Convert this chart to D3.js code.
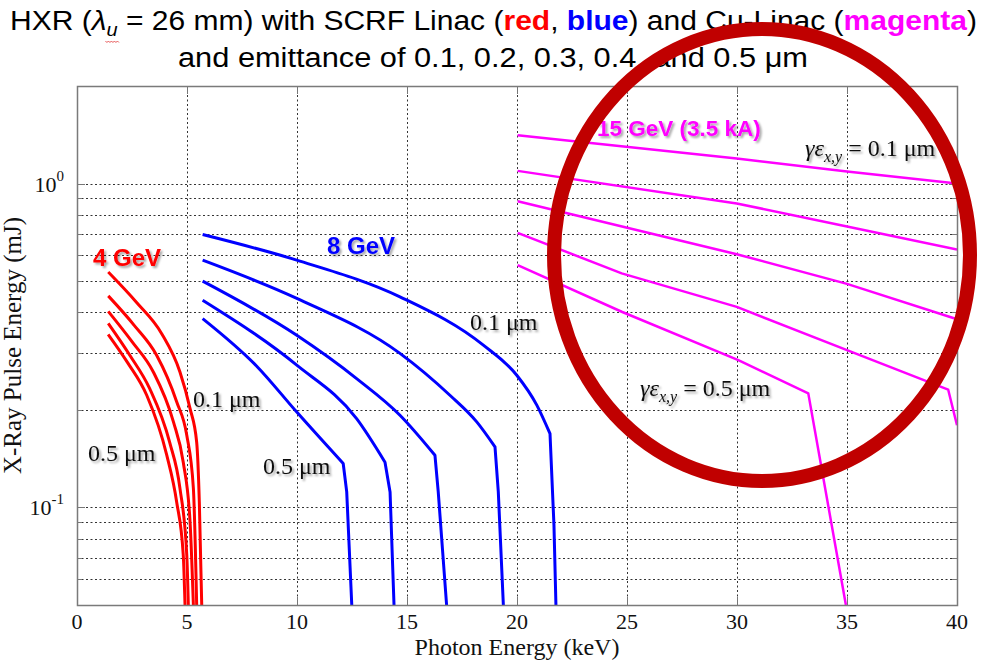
<!DOCTYPE html>
<html lang="en">
<head>
<meta charset="UTF-8">
<title>HXR pulse energy</title>
<script src="https://cdn.jsdelivr.net/npm/d3@7"></script>
<style>
  body { margin: 0; background: #fff; }
  svg { display: block; }
</style>
</head>
<body>
<div class="chart"></div>
<script>
const xTicks = [0, 5, 10, 15, 20, 25, 30, 35, 40]
const yMajor = [0.1, 1]
const yMinor = [0.06, 0.07, 0.08, 0.09, 0.2, 0.3, 0.4, 0.5, 0.6, 0.7, 0.8, 0.9]

// [keV, mJ] per curve, emittance 0.1 .. 0.5 um
const red4GeV = [
  [[1.42, 0.533], [2.7, 0.43], [3.85, 0.344], [4.68, 0.262], [5.14, 0.202], [5.44, 0.159], [5.56, 0.104], [5.67, 0.05]],
  [[1.42, 0.450], [2.6, 0.365], [3.62, 0.295], [4.53, 0.212], [4.99, 0.167], [5.29, 0.1145], [5.44, 0.05]],
  [[1.42, 0.403], [2.5, 0.325], [3.47, 0.262], [4.38, 0.184], [4.83, 0.138], [5.14, 0.090], [5.29, 0.05]],
  [[1.42, 0.370], [2.4, 0.295], [3.30, 0.233], [4.21, 0.159], [4.68, 0.1145], [4.99, 0.0713], [5.06, 0.05]],
  [[1.42, 0.342], [2.3, 0.28], [3.17, 0.222], [4.08, 0.145], [4.53, 0.104], [4.83, 0.0713], [4.91, 0.05]]
]
const blue8GeV = [
  [[5.71, 0.696], [9.99, 0.580], [14.68, 0.447], [18.47, 0.317], [19.99, 0.256], [20.9, 0.207], [21.5, 0.169], [21.68, 0.0882], [21.77, 0.05]],
  [[5.71, 0.580], [9.99, 0.442], [14.68, 0.299], [16.95, 0.222], [18.17, 0.1837], [19.0, 0.1538], [19.15, 0.1117], [19.38, 0.05]],
  [[5.71, 0.4995], [9.99, 0.340], [12.71, 0.250], [14.68, 0.1927], [16.27, 0.145], [16.42, 0.1117], [16.8, 0.05]],
  [[5.71, 0.436], [9.99, 0.275], [12.71, 0.188], [14.0, 0.138], [14.23, 0.1117], [14.41, 0.05]],
  [[5.71, 0.383], [8.17, 0.273], [9.99, 0.197], [12.1, 0.1367], [12.26, 0.1117], [12.49, 0.05]]
]
const magenta15GeV = [
  [[20.03, 1.41], [29.99, 1.195], [35, 1.09], [40, 1.0]],
  [[20.03, 1.094], [29.99, 0.868], [35, 0.737], [40, 0.626]],
  [[20.03, 0.882], [29.99, 0.605], [35, 0.49], [39.9, 0.383]],
  [[20.03, 0.704], [24.76, 0.528], [29.99, 0.416], [35, 0.306], [39.6, 0.231], [40, 0.1795]],
  [[20.03, 0.560], [24.76, 0.402], [30.06, 0.285], [33.24, 0.225], [34.95, 0.05]]
]

const W = 987, H = 660
const plot = { left: 77, right: 957, top: 86, bottom: 605 }
const serif = 'Liberation Serif, Times New Roman, serif'
const sans = 'Liberation Sans, Arial, sans-serif'

const svg = d3.select('.chart').append('svg').attr('width', W).attr('height', H)
const defs = svg.append('defs')
defs.append('clipPath').attr('id', 'clip').append('rect')
  .attr('x', plot.left).attr('y', plot.top)
  .attr('width', plot.right - plot.left).attr('height', plot.bottom - plot.top)
defs.append('filter').attr('id', 'shadow').attr('x', '-10%').attr('y', '-30%').attr('width', '130%').attr('height', '170%')
  .append('feDropShadow').attr('dx', 2).attr('dy', 2).attr('stdDeviation', 1.3)
  .attr('flood-color', '#000').attr('flood-opacity', 0.35)

const x = d3.scaleLinear().domain([0, 40]).range([plot.left, plot.right])
const y = d3.scaleLog().domain([0.05, 2]).range([plot.bottom, plot.top])

// grid
const grid = svg.append('g').attr('stroke', '#333').attr('stroke-width', 1).attr('stroke-dasharray', '2,2.5')
grid.selectAll('.gx').data(xTicks.slice(1, -1)).enter().append('line')
  .attr('x1', d => Math.round(x(d)) + 0.5).attr('x2', d => Math.round(x(d)) + 0.5)
  .attr('y1', plot.top).attr('y2', plot.bottom)
grid.selectAll('.gy').data(yMajor.concat(yMinor)).enter().append('line')
  .attr('y1', d => Math.round(y(d)) + 0.5).attr('y2', d => Math.round(y(d)) + 0.5)
  .attr('x1', plot.left).attr('x2', plot.right)

// inward ticks
const ticks = svg.append('g').attr('stroke', '#777').attr('stroke-width', 1)
xTicks.forEach(d => {
  const px = Math.round(x(d)) + 0.5
  ticks.append('line').attr('x1', px).attr('x2', px).attr('y1', plot.bottom).attr('y2', plot.bottom - 8)
  ticks.append('line').attr('x1', px).attr('x2', px).attr('y1', plot.top).attr('y2', plot.top + 8)
})
yMajor.concat(yMinor).forEach(d => {
  const py = Math.round(y(d)) + 0.5
  const len = yMajor.includes(d) ? 8 : 5
  ticks.append('line').attr('x1', plot.left).attr('x2', plot.left + len).attr('y1', py).attr('y2', py)
  ticks.append('line').attr('x1', plot.right).attr('x2', plot.right - len).attr('y1', py).attr('y2', py)
})

// curves
const line = d3.line().x(d => x(d[0])).y(d => y(d[1]))
const smooth = d3.line().x(d => x(d[0])).y(d => y(d[1])).curve(d3.curveMonotoneX)
// smooth roll-off down to the saturation knee, then a straight drop
function kneePath(pts) {
  let k = pts.length - 1
  for (let i = 0; i < pts.length - 1; i++) {
    const s = (y(pts[i + 1][1]) - y(pts[i][1])) / (x(pts[i + 1][0]) - x(pts[i][0]))
    if (s > 4) { k = i; break }
  }
  return smooth(pts.slice(0, k + 1)) + line(pts.slice(k)).replace(/^M/, 'L')
}
const curves = svg.append('g').attr('clip-path', 'url(#clip)').attr('fill', 'none')
  .attr('stroke-linejoin', 'round')
curves.selectAll('.red').data(red4GeV).enter().append('path')
  .attr('d', smooth).attr('stroke', '#ff0000').attr('stroke-width', 3)
curves.selectAll('.blue').data(blue8GeV).enter().append('path')
  .attr('d', kneePath).attr('stroke', '#0000ff').attr('stroke-width', 3)
curves.selectAll('.mag').data(magenta15GeV).enter().append('path')
  .attr('d', line).attr('stroke', '#ff00ff').attr('stroke-width', 2.5)

// box
svg.append('rect').attr('x', plot.left + 0.5).attr('y', plot.top + 0.5)
  .attr('width', plot.right - plot.left).attr('height', plot.bottom - plot.top)
  .attr('fill', 'none').attr('stroke', '#7a7a7a').attr('stroke-width', 1.5)

// tick labels
svg.append('g').selectAll('text').data(xTicks).enter().append('text')
  .attr('x', d => x(d)).attr('y', 629).attr('text-anchor', 'middle')
  .attr('font-family', serif).attr('font-size', 22).attr('fill', '#111')
  .text(d => d)
const yl = svg.append('g').selectAll('text').data(yMajor).enter().append('text')
  .attr('x', 64).attr('y', d => y(d) + 8).attr('text-anchor', 'end')
  .attr('font-family', serif).attr('font-size', 22).attr('fill', '#111')
yl.append('tspan').text('10')
yl.append('tspan').attr('dy', -11).attr('font-size', 15).text(d => Math.round(Math.log10(d)))

// axis titles
svg.append('text').attr('x', (plot.left + plot.right) / 2).attr('y', 655).attr('text-anchor', 'middle')
  .attr('font-family', serif).attr('font-size', 24).attr('fill', '#111').text('Photon Energy (keV)')
svg.append('text').attr('transform', `translate(21,${(plot.top + plot.bottom) / 2}) rotate(-90)`)
  .attr('text-anchor', 'middle').attr('font-family', serif).attr('font-size', 25).attr('fill', '#111')
  .text('X-Ray Pulse Energy (mJ)')

// annotations
const notes = svg.append('g').attr('filter', 'url(#shadow)')
function bold(t, px, py, color, size) {
  notes.append('text').attr('x', px).attr('y', py).attr('font-family', sans).attr('font-weight', 'bold')
    .attr('font-size', size).attr('fill', color).text(t)
}
bold('4 GeV', 93, 266, '#ff0000', 24)
bold('8 GeV', 327, 254, '#0000ff', 24)
bold('15 GeV (3.5 kA)', 597, 136, '#ff00ff', 22.5)
function um(t, px, py) {
  notes.append('text').attr('x', px).attr('y', py).attr('font-family', serif).attr('font-size', 24)
    .attr('fill', '#111').text(t)
}
um('0.1 μm', 193, 407)
um('0.5 μm', 88, 461)
um('0.1 μm', 470, 330)
um('0.5 μm', 263, 474)
function gamma(v, px, py) {
  const t = notes.append('text').attr('x', px).attr('y', py).attr('font-family', serif).attr('font-size', 24).attr('fill', '#111')
  t.append('tspan').attr('font-style', 'italic').text('γε')
  t.append('tspan').attr('font-style', 'italic').attr('font-size', 16).attr('dy', 6).text('x,y')
  t.append('tspan').attr('dy', -6).text(' = ' + v + ' μm')
}
gamma('0.1', 805, 156)
gamma('0.5', 640, 396)

// title
const t1 = svg.append('text').attr('x', 493.5).attr('y', 30).attr('text-anchor', 'middle')
  .attr('font-family', sans).attr('font-size', 27).attr('fill', '#000')
  .attr('textLength', 967).attr('lengthAdjust', 'spacingAndGlyphs')
t1.append('tspan').text('HXR (')
t1.append('tspan').attr('font-style', 'italic').text('λ')
const uSpan = t1.append('tspan').attr('font-style', 'italic').attr('font-size', 18).attr('dy', 6).text('u')
t1.append('tspan').attr('dy', -6).text(' = 26 mm) with SCRF Linac (')
t1.append('tspan').attr('fill', '#ff0000').attr('font-weight', 'bold').text('red')
t1.append('tspan').text(', ')
t1.append('tspan').attr('fill', '#0000ff').attr('font-weight', 'bold').text('blue')
t1.append('tspan').text(') and Cu-Linac (')
t1.append('tspan').attr('fill', '#ff00ff').attr('font-weight', 'bold').text('magenta')
t1.append('tspan').text(')')
svg.append('text').attr('x', 493).attr('y', 67).attr('text-anchor', 'middle')
  .attr('font-family', sans).attr('font-size', 27).attr('fill', '#000')
  .attr('textLength', 630).attr('lengthAdjust', 'spacingAndGlyphs')
  .text('and emittance of 0.1, 0.2, 0.3, 0.4, and 0.5 μm')

// spell-check squiggle under the subscript
const ub = uSpan.node().getBBox()
const sq = d3.path()
const sy = ub.y + ub.height + 1
sq.moveTo(ub.x - 1, sy)
for (let i = 0, px = ub.x - 1; px < ub.x + ub.width + 1; i++) {
  px += 1.5
  sq.lineTo(px, sy + (i % 2 ? 0 : 1.5))
}
svg.append('path').attr('d', sq.toString()).attr('fill', 'none').attr('stroke', '#e03030').attr('stroke-width', 0.8)

// highlight ring
svg.append('ellipse').attr('cx', 762).attr('cy', 255).attr('rx', 208).attr('ry', 226)
  .attr('fill', 'none').attr('stroke', '#c00000').attr('stroke-width', 14)
</script>
</body>
</html>
